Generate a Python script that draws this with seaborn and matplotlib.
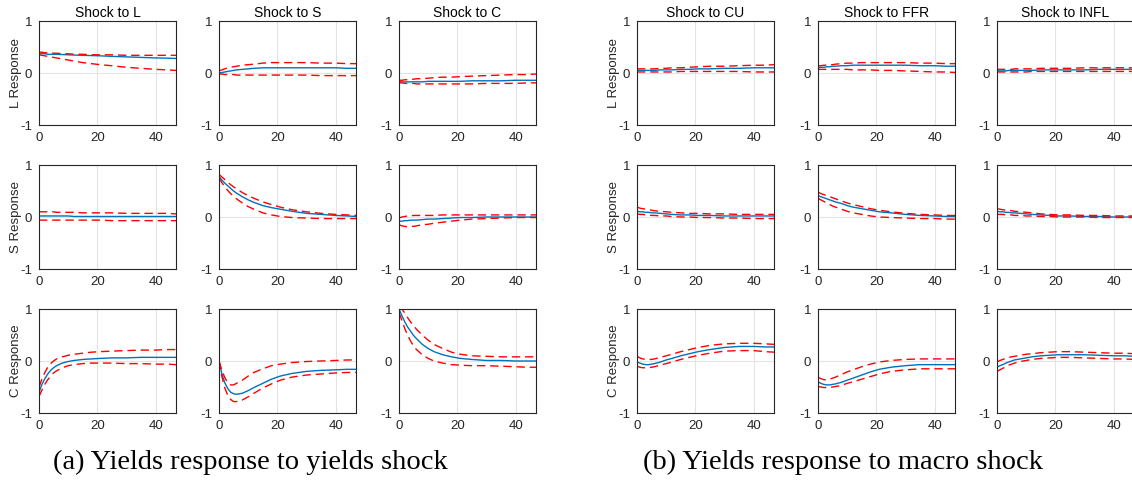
#!/usr/bin/env python3

import matplotlib
matplotlib.use('Agg')
import matplotlib.pyplot as plt     # visual plotting of data
import seaborn as sns               # visual plotting of data
import pandas as pd                 # handling data

horizon = [0, 1, 2, 3, 4, 5, 6, 8, 10, 12, 15, 18, 21, 25, 30, 35, 40, 44, 47]

# ---- (a) yields response to yields shock: <response><shock>_<med|up|lo>
LL_med = [0.37, 0.37, 0.37, 0.36, 0.36, 0.36, 0.36, 0.355, 0.35, 0.345, 0.34, 0.335, 0.33, 0.32, 0.31, 0.30, 0.29, 0.285, 0.28]
LL_up = [0.40, 0.40, 0.39, 0.39, 0.39, 0.38, 0.38, 0.37, 0.37, 0.36, 0.36, 0.35, 0.35, 0.35, 0.34, 0.34, 0.34, 0.34, 0.34]
LL_lo = [0.35, 0.34, 0.33, 0.32, 0.31, 0.30, 0.29, 0.27, 0.25, 0.23, 0.20, 0.18, 0.16, 0.14, 0.11, 0.09, 0.07, 0.06, 0.05]

LS_med = [0.0, 0.01, 0.02, 0.03, 0.04, 0.05, 0.06, 0.07, 0.08, 0.09, 0.10, 0.10, 0.10, 0.10, 0.10, 0.10, 0.10, 0.09, 0.09]
LS_up = [0.04, 0.06, 0.08, 0.10, 0.11, 0.12, 0.13, 0.15, 0.16, 0.17, 0.19, 0.20, 0.20, 0.20, 0.20, 0.19, 0.19, 0.18, 0.18]
LS_lo = [-0.02, -0.02, -0.03, -0.03, -0.03, -0.03, -0.04, -0.04, -0.04, -0.04, -0.04, -0.04, -0.04, -0.04, -0.04, -0.05, -0.05, -0.05, -0.05]

LC_med = [-0.17, -0.17, -0.17, -0.17, -0.17, -0.17, -0.17, -0.17, -0.16, -0.16, -0.16, -0.16, -0.16, -0.15, -0.15, -0.15, -0.14, -0.14, -0.14]
LC_up = [-0.14, -0.14, -0.13, -0.13, -0.12, -0.12, -0.11, -0.11, -0.10, -0.09, -0.08, -0.08, -0.07, -0.06, -0.05, -0.04, -0.03, -0.03, -0.02]
LC_lo = [-0.19, -0.19, -0.20, -0.20, -0.20, -0.20, -0.21, -0.21, -0.21, -0.21, -0.21, -0.21, -0.21, -0.21, -0.20, -0.20, -0.20, -0.19, -0.19]

SL_med = [0.02, 0.02, 0.02, 0.02, 0.02, 0.02, 0.02, 0.02, 0.02, 0.01, 0.01, 0.01, 0.01, 0.01, 0.01, 0.01, 0.01, 0.01, 0.01]
SL_up = [0.10, 0.10, 0.10, 0.10, 0.10, 0.10, 0.09, 0.09, 0.09, 0.09, 0.08, 0.08, 0.08, 0.08, 0.07, 0.07, 0.07, 0.07, 0.06]
SL_lo = [-0.06, -0.06, -0.06, -0.06, -0.06, -0.06, -0.06, -0.06, -0.06, -0.06, -0.06, -0.06, -0.06, -0.07, -0.07, -0.07, -0.07, -0.07, -0.07]

SS_med = [0.78, 0.71, 0.65, 0.60, 0.55, 0.50, 0.46, 0.39, 0.33, 0.28, 0.22, 0.18, 0.15, 0.11, 0.07, 0.05, 0.03, 0.02, 0.01]
SS_up = [0.82, 0.77, 0.72, 0.67, 0.62, 0.58, 0.54, 0.47, 0.41, 0.36, 0.29, 0.24, 0.19, 0.14, 0.10, 0.07, 0.05, 0.04, 0.03]
SS_lo = [0.75, 0.66, 0.58, 0.51, 0.45, 0.40, 0.35, 0.27, 0.20, 0.15, 0.08, 0.04, 0.01, -0.01, -0.02, -0.03, -0.03, -0.03, -0.03]

SC_med = [-0.08, -0.08, -0.07, -0.07, -0.06, -0.06, -0.06, -0.05, -0.04, -0.04, -0.03, -0.02, -0.01, -0.01, 0.0, 0.0, 0.0, 0.0, 0.0]
SC_up = [-0.02, 0.0, 0.01, 0.02, 0.02, 0.03, 0.03, 0.03, 0.03, 0.03, 0.04, 0.04, 0.04, 0.04, 0.04, 0.04, 0.04, 0.04, 0.04]
SC_lo = [-0.15, -0.17, -0.18, -0.19, -0.18, -0.18, -0.17, -0.15, -0.14, -0.12, -0.10, -0.08, -0.06, -0.04, -0.03, -0.02, -0.01, -0.01, -0.01]

CL_med = [-0.60, -0.45, -0.34, -0.25, -0.18, -0.13, -0.09, -0.04, -0.01, 0.01, 0.03, 0.04, 0.05, 0.06, 0.06, 0.07, 0.07, 0.07, 0.07]
CL_up = [-0.50, -0.35, -0.22, -0.12, -0.05, 0.0, 0.04, 0.08, 0.11, 0.13, 0.15, 0.17, 0.18, 0.19, 0.20, 0.21, 0.21, 0.22, 0.22]
CL_lo = [-0.68, -0.56, -0.45, -0.36, -0.29, -0.23, -0.19, -0.13, -0.09, -0.07, -0.05, -0.04, -0.04, -0.04, -0.05, -0.05, -0.06, -0.06, -0.07]

CS_med = [0.0, -0.25, -0.42, -0.53, -0.60, -0.63, -0.64, -0.62, -0.57, -0.51, -0.43, -0.35, -0.29, -0.24, -0.20, -0.18, -0.17, -0.16, -0.16]
CS_up = [0.0, -0.18, -0.32, -0.42, -0.46, -0.46, -0.43, -0.37, -0.29, -0.22, -0.15, -0.09, -0.06, -0.03, -0.01, 0.0, 0.01, 0.02, 0.02]
CS_lo = [0.0, -0.30, -0.52, -0.66, -0.74, -0.78, -0.78, -0.75, -0.69, -0.62, -0.52, -0.44, -0.37, -0.31, -0.27, -0.25, -0.23, -0.22, -0.22]

CC_med = [1.0, 0.87, 0.75, 0.65, 0.57, 0.49, 0.43, 0.32, 0.24, 0.18, 0.12, 0.08, 0.05, 0.03, 0.01, 0.01, 0.0, 0.0, 0.0]
CC_up = [1.05, 1.0, 0.92, 0.83, 0.75, 0.68, 0.61, 0.50, 0.40, 0.32, 0.24, 0.17, 0.13, 0.10, 0.09, 0.08, 0.08, 0.08, 0.08]
CC_lo = [0.93, 0.78, 0.62, 0.49, 0.38, 0.29, 0.22, 0.12, 0.05, 0.0, -0.04, -0.07, -0.08, -0.09, -0.09, -0.10, -0.11, -0.12, -0.12]

# ---- (b) yields response to macro shock
LCU_med = [0.05, 0.05, 0.05, 0.05, 0.05, 0.05, 0.05, 0.06, 0.06, 0.06, 0.07, 0.07, 0.08, 0.08, 0.09, 0.09, 0.10, 0.10, 0.10]
LCU_up = [0.08, 0.08, 0.08, 0.08, 0.08, 0.08, 0.08, 0.09, 0.09, 0.10, 0.10, 0.11, 0.12, 0.13, 0.13, 0.14, 0.15, 0.15, 0.16]
LCU_lo = [0.02, 0.02, 0.02, 0.02, 0.02, 0.02, 0.02, 0.02, 0.02, 0.02, 0.03, 0.03, 0.03, 0.03, 0.03, 0.03, 0.02, 0.02, 0.02]

LFFR_med = [0.10, 0.11, 0.11, 0.12, 0.12, 0.13, 0.13, 0.14, 0.14, 0.15, 0.15, 0.15, 0.15, 0.15, 0.15, 0.14, 0.14, 0.13, 0.13]
LFFR_up = [0.14, 0.14, 0.15, 0.15, 0.16, 0.16, 0.17, 0.18, 0.19, 0.19, 0.20, 0.20, 0.20, 0.20, 0.20, 0.19, 0.19, 0.18, 0.18]
LFFR_lo = [0.07, 0.07, 0.07, 0.07, 0.07, 0.07, 0.07, 0.07, 0.07, 0.06, 0.06, 0.06, 0.05, 0.05, 0.04, 0.03, 0.02, 0.02, 0.01]

LINFL_med = [0.04, 0.04, 0.04, 0.04, 0.05, 0.05, 0.05, 0.05, 0.05, 0.05, 0.06, 0.06, 0.06, 0.06, 0.06, 0.07, 0.07, 0.07, 0.07]
LINFL_up = [0.07, 0.07, 0.07, 0.07, 0.07, 0.07, 0.08, 0.08, 0.08, 0.08, 0.09, 0.09, 0.09, 0.09, 0.10, 0.10, 0.10, 0.10, 0.10]
LINFL_lo = [0.02, 0.02, 0.02, 0.02, 0.02, 0.02, 0.02, 0.02, 0.02, 0.03, 0.03, 0.03, 0.03, 0.03, 0.03, 0.03, 0.03, 0.03, 0.03]

SCU_med = [0.11, 0.10, 0.10, 0.09, 0.09, 0.08, 0.08, 0.07, 0.06, 0.05, 0.04, 0.04, 0.03, 0.03, 0.02, 0.02, 0.02, 0.02, 0.02]
SCU_up = [0.19, 0.17, 0.16, 0.15, 0.14, 0.13, 0.12, 0.11, 0.10, 0.09, 0.08, 0.07, 0.07, 0.06, 0.06, 0.05, 0.05, 0.05, 0.05]
SCU_lo = [0.06, 0.05, 0.05, 0.04, 0.04, 0.03, 0.03, 0.02, 0.02, 0.01, 0.0, 0.0, -0.01, -0.01, -0.02, -0.02, -0.03, -0.03, -0.03]

SFFR_med = [0.41, 0.39, 0.37, 0.35, 0.33, 0.31, 0.29, 0.26, 0.22, 0.19, 0.16, 0.13, 0.10, 0.08, 0.05, 0.03, 0.02, 0.01, 0.01]
SFFR_up = [0.48, 0.45, 0.43, 0.41, 0.39, 0.37, 0.35, 0.31, 0.27, 0.24, 0.20, 0.16, 0.13, 0.10, 0.07, 0.05, 0.04, 0.03, 0.03]
SFFR_lo = [0.36, 0.33, 0.30, 0.27, 0.24, 0.21, 0.19, 0.15, 0.11, 0.08, 0.05, 0.02, 0.0, -0.01, -0.02, -0.03, -0.03, -0.04, -0.04]

SINFL_med = [0.11, 0.10, 0.10, 0.09, 0.09, 0.08, 0.08, 0.07, 0.06, 0.05, 0.04, 0.03, 0.02, 0.02, 0.01, 0.01, 0.0, 0.0, 0.0]
SINFL_up = [0.16, 0.15, 0.14, 0.13, 0.13, 0.12, 0.11, 0.10, 0.09, 0.08, 0.06, 0.05, 0.04, 0.04, 0.03, 0.03, 0.02, 0.02, 0.02]
SINFL_lo = [0.05, 0.05, 0.05, 0.04, 0.04, 0.04, 0.03, 0.03, 0.02, 0.02, 0.01, 0.01, 0.0, 0.0, 0.0, -0.01, -0.01, -0.01, -0.01]

CCU_med = [-0.02, -0.04, -0.06, -0.07, -0.07, -0.06, -0.05, -0.02, 0.02, 0.05, 0.10, 0.14, 0.18, 0.22, 0.26, 0.28, 0.28, 0.27, 0.27]
CCU_up = [0.09, 0.06, 0.04, 0.03, 0.03, 0.03, 0.04, 0.07, 0.10, 0.13, 0.18, 0.22, 0.26, 0.30, 0.33, 0.34, 0.34, 0.33, 0.32]
CCU_lo = [-0.10, -0.12, -0.13, -0.13, -0.13, -0.12, -0.11, -0.08, -0.05, -0.02, 0.03, 0.07, 0.11, 0.15, 0.19, 0.20, 0.20, 0.18, 0.17]

CFFR_med = [-0.40, -0.43, -0.45, -0.46, -0.46, -0.45, -0.44, -0.41, -0.37, -0.33, -0.27, -0.21, -0.16, -0.12, -0.09, -0.07, -0.07, -0.07, -0.07]
CFFR_up = [-0.31, -0.34, -0.36, -0.36, -0.35, -0.33, -0.31, -0.26, -0.21, -0.17, -0.11, -0.06, -0.02, 0.01, 0.03, 0.04, 0.04, 0.04, 0.04]
CFFR_lo = [-0.49, -0.50, -0.51, -0.51, -0.51, -0.50, -0.49, -0.47, -0.43, -0.40, -0.35, -0.30, -0.25, -0.20, -0.17, -0.15, -0.15, -0.15, -0.15]

CINFL_med = [-0.12, -0.09, -0.07, -0.04, -0.02, 0.0, 0.02, 0.04, 0.06, 0.08, 0.10, 0.11, 0.12, 0.12, 0.12, 0.11, 0.10, 0.10, 0.09]
CINFL_up = [-0.02, 0.01, 0.03, 0.05, 0.07, 0.08, 0.09, 0.11, 0.13, 0.14, 0.16, 0.17, 0.18, 0.18, 0.17, 0.16, 0.15, 0.15, 0.14]
CINFL_lo = [-0.20, -0.17, -0.14, -0.11, -0.08, -0.06, -0.04, -0.01, 0.01, 0.03, 0.05, 0.06, 0.07, 0.07, 0.06, 0.05, 0.04, 0.04, 0.03]

responses = ['L', 'S', 'C']
shocks_a = ['L', 'S', 'C']
shocks_b = ['CU', 'FFR', 'INFL']
captions = ['(a) Yields response to yields shock', '(b) Yields response to macro shock']

W, H = 1132, 482
col_left = [[39, 219, 399], [637, 818, 997]]
row_top = [21, 165, 309]
ax_w, ax_h = 137, 104
caption_x = [250, 843]

BLUE = '#0072BD'
RED = '#FF0000'
DARK = '#262626'


def draw_panel(fig, data, shocks, lefts):
    for i, resp in enumerate(responses):
        for j, shock in enumerate(shocks):
            med, up, lo = [data[resp + shock + suffix] for suffix in ('_med', '_up', '_lo')]
            df = pd.DataFrame({'h': horizon, 'med': med, 'up': up, 'lo': lo})
            ax = fig.add_axes([lefts[j] / W, 1 - (row_top[i] + ax_h) / H, ax_w / W, ax_h / H])
            sns.lineplot(data=df, x='h', y='med', ax=ax, color=BLUE, lw=1.0)
            for band in ('up', 'lo'):
                sns.lineplot(data=df, x='h', y=band, ax=ax, color=RED, lw=1.0,
                             linestyle=(0, (6, 3.5)))
            ax.set_xlim(0, 47)
            ax.set_ylim(-1, 1)
            ax.set_xticks([0, 20, 40])
            ax.set_yticks([-1, 0, 1])
            ax.set_yticklabels(['-1', '0', '1'])
            ax.set_xlabel('')
            ax.set_ylabel('')
            ax.grid(True, color='#e3e3e3', lw=0.8)
            ax.set_axisbelow(True)
            ax.tick_params(direction='in', length=2.5, width=0.6, colors=DARK,
                           labelsize=9.5, pad=5)
            for sp in ax.spines.values():
                sp.set_color(DARK)
                sp.set_linewidth(0.8)
            if i == 0:
                ax.set_title('Shock to ' + shock, fontsize=10, color='black', pad=3)
            if j == 0:
                ax.set_ylabel(resp + ' Response', fontsize=9.5, color=DARK, labelpad=-1.5)


if __name__ == '__main__':
    sns.set_style('white')
    plt.rcParams['font.family'] = ['Liberation Sans', 'DejaVu Sans']
    plt.rcParams['axes.unicode_minus'] = False

    data = {k: v for k, v in globals().items() if k.endswith(('_med', '_up', '_lo'))}

    fig = plt.figure(figsize=(W / 100, H / 100), dpi=100)
    draw_panel(fig, data, shocks_a, col_left[0])
    draw_panel(fig, data, shocks_b, col_left[1])

    for cx, text in zip(caption_x, captions):
        fig.text(cx / W, 1 - 462 / H, text, ha='center', va='center',
                 family=['Liberation Serif', 'DejaVu Serif'], fontsize=20.5, color='black')

    plt.savefig('out.png', dpi=100)
